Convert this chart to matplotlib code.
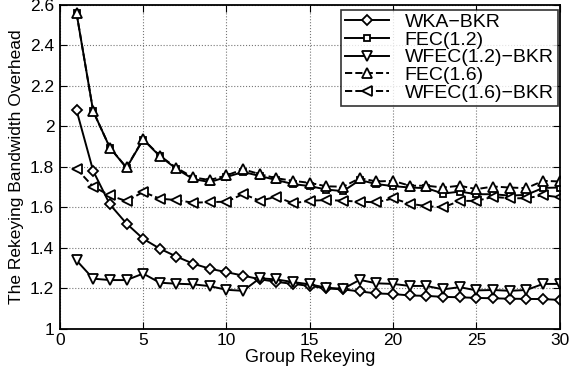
import matplotlib
matplotlib.use("Agg")
import matplotlib.pyplot as plt
import numpy as np

plt.rcParams['font.family'] = ['Liberation Sans', 'DejaVu Sans']

rekeying = list(range(1, 31))

wka_bkr = [2.08, 1.78, 1.615, 1.52, 1.445, 1.396, 1.357, 1.322, 1.297, 1.28,
           1.263, 1.245, 1.232, 1.222, 1.212, 1.2, 1.195, 1.185, 1.175, 1.172,
           1.165, 1.163, 1.158, 1.156, 1.153, 1.151, 1.149, 1.148, 1.147, 1.143]
fec_12 = [2.56, 2.075, 1.895, 1.795, 1.935, 1.853, 1.79, 1.74, 1.725, 1.75,
          1.775, 1.755, 1.735, 1.715, 1.705, 1.688, 1.68, 1.735, 1.715, 1.705,
          1.698, 1.695, 1.668, 1.678, 1.665, 1.665, 1.658, 1.662, 1.696, 1.698]
wfec_12_bkr = [1.338, 1.248, 1.241, 1.241, 1.273, 1.228, 1.223, 1.22, 1.211, 1.193,
               1.188, 1.25, 1.244, 1.231, 1.22, 1.203, 1.198, 1.242, 1.225, 1.222,
               1.212, 1.212, 1.195, 1.206, 1.19, 1.192, 1.188, 1.192, 1.222, 1.222]
fec_16 = [2.56, 2.075, 1.895, 1.797, 1.937, 1.855, 1.795, 1.748, 1.735, 1.758,
          1.788, 1.764, 1.744, 1.731, 1.721, 1.704, 1.702, 1.744, 1.728, 1.731,
          1.707, 1.707, 1.698, 1.707, 1.69, 1.703, 1.698, 1.695, 1.731, 1.728]
wfec_16_bkr = [1.791, 1.702, 1.659, 1.631, 1.676, 1.643, 1.636, 1.623, 1.626, 1.628,
               1.666, 1.633, 1.652, 1.62, 1.633, 1.636, 1.633, 1.628, 1.625, 1.644,
               1.618, 1.606, 1.6, 1.632, 1.632, 1.652, 1.645, 1.645, 1.66, 1.65]

series_labels = ['WKA\u2212BKR', 'FEC(1.2)', 'WFEC(1.2)\u2212BKR', 'FEC(1.6)', 'WFEC(1.6)\u2212BKR']
xticks = [0, 5, 10, 15, 20, 25, 30]
yticks = [1, 1.2, 1.4, 1.6, 1.8, 2, 2.2, 2.4, 2.6]
ytick_labels = ['1', '1.2', '1.4', '1.6', '1.8', '2', '2.2', '2.4', '2.6']

fig = plt.figure(figsize=(5.7, 3.75), dpi=100)
ax = fig.add_axes([0.105, 0.123, 0.877, 0.864])

common = dict(color='black', lw=1.4, mfc='white', mec='black', mew=1.3)
ax.plot(rekeying, wka_bkr, '-', marker='D', ms=5.5, label=series_labels[0], **common)
ax.plot(rekeying, fec_12, '-', marker='s', ms=5, label=series_labels[1], **common)
ax.plot(rekeying, wfec_12_bkr, '-', marker='v', ms=7, label=series_labels[2], **common)
ax.plot(rekeying, fec_16, '--', marker='^', ms=7, label=series_labels[3], **common)
ax.plot(rekeying, wfec_16_bkr, '--', marker='<', ms=7, label=series_labels[4], **common)

ax.set_xlim(0, 30)
ax.set_ylim(1, 2.6)
ax.set_xticks(xticks)
ax.set_yticks(yticks)
ax.set_yticklabels(ytick_labels)
ax.tick_params(direction='in', top=True, right=True, labelsize=12.5, length=5, pad=4)
ax.tick_params(axis='x', pad=3)
ax.grid(True, linestyle=':', color='#777777', linewidth=0.8)
for s in ax.spines.values():
    s.set_linewidth(1.3)

ax.set_xlabel('Group Rekeying', fontsize=13, labelpad=1)
ax.set_ylabel('The Rekeying Bandwidth Overhead', fontsize=12.5, labelpad=4)

leg = ax.legend(loc='upper right', bbox_to_anchor=(0.996, 0.985), fontsize=14,
                frameon=True, fancybox=False, edgecolor='black', handlelength=2.3,
                borderpad=0.2, labelspacing=0.0, borderaxespad=0.0, handletextpad=0.8)
leg.get_frame().set_linewidth(1.2)

fig.savefig('out.png', dpi=100)
